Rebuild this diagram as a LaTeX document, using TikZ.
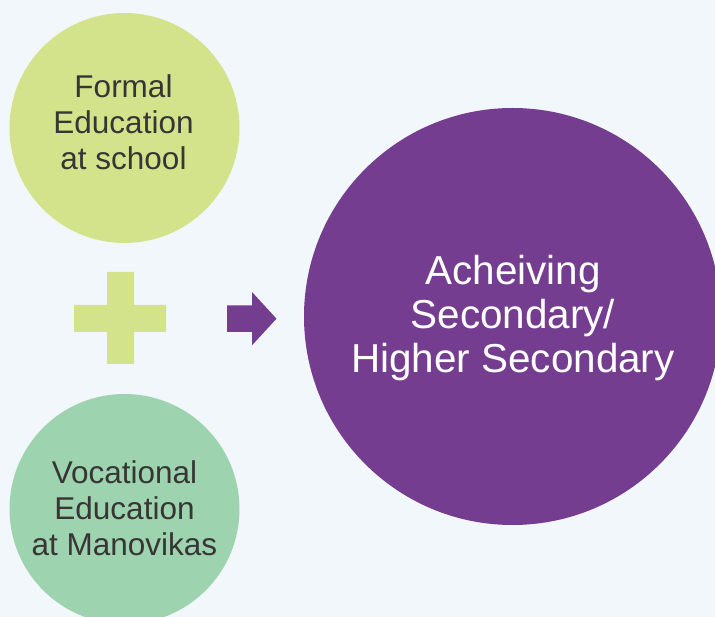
\documentclass[tikz,border=0pt]{standalone}
\usepackage{fontspec}
\setmainfont{Liberation Sans}
\definecolor{bgc}{HTML}{F1F7FA}
\definecolor{limec}{HTML}{D3E38C}
\definecolor{mintc}{HTML}{9DD3AF}
\definecolor{purplec}{HTML}{743D8F}
\definecolor{textc}{HTML}{383535}
\begin{document}
\begin{tikzpicture}[x=1pt,y=-1pt,
  disc/.style={circle,draw=none,inner sep=0pt,minimum size=#1},
  smalltext/.style={align=center,inner sep=0pt,text=textc,font=\fontsize{31.5}{36}\selectfont},
  bigtext/.style={align=center,inner sep=0pt,text=white,font=\fontsize{40.4}{44}\selectfont}]
\useasboundingbox (0,0) rectangle (715,617);
\fill[bgc] (0,0) rectangle (715,617);
\node[disc=230pt,fill=limec] (formal) at (124.5,128) {};
\node[disc=230pt,fill=mintc] (vocational) at (124.5,509) {};
\node[disc=417pt,fill=purplec] (achieve) at (512.5,316.5) {};
\node[smalltext] (formaltext) at (123.5,122) {Formal\\Education\\at school};
\node[smalltext] (vocationaltext) at (124.5,507.8) {Vocational\\Education\\at Manovikas};
\node[bigtext] (achievetext) at (513,318.2) {Acheiving\\Secondary/\\Higher Secondary};
% plus sign
\fill[limec] (107,272) -- (134,272) -- (134,305) -- (166,305) -- (166,332) -- (134,332)
  -- (134,364) -- (107,364) -- (107,332) -- (74,332) -- (74,305) -- (107,305) -- cycle;
% arrow
\fill[purplec] (227,305.5) -- (252,305.5) -- (252,292) -- (276.5,318.7) -- (252,345.3)
  -- (252,332) -- (227,332) -- cycle;
\end{tikzpicture}
\end{document}
